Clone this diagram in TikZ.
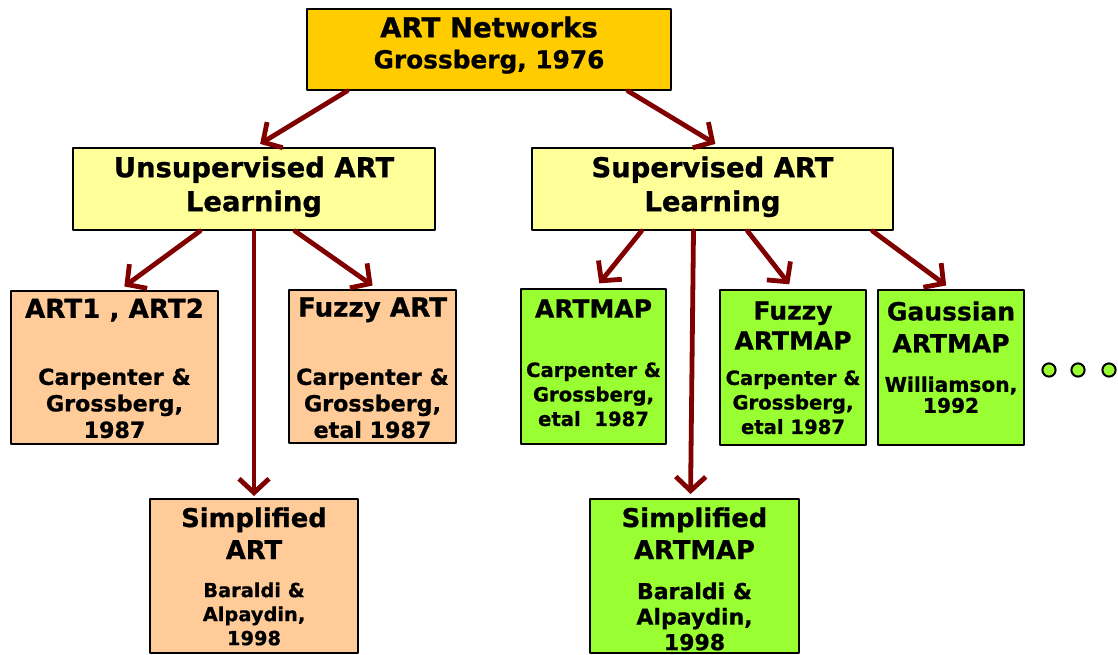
\documentclass[tikz,border=0pt]{standalone}
\usepackage{fontspec}
\setmainfont{DejaVu Sans}[BoldFeatures={FakeBold=0.8}]
\usetikzlibrary{arrows.meta}
\usetikzlibrary{calc}
\definecolor{artgold}{HTML}{FFCC00}
\definecolor{learnyellow}{HTML}{FFFF99}
\definecolor{unsupbox}{HTML}{FFCC99}
\definecolor{supbox}{HTML}{99FF33}
\definecolor{arrowred}{HTML}{800000}
\newcommand{\fs}[2]{\fontsize{#1}{#2}\selectfont\bfseries}

\begin{document}
\begin{tikzpicture}[line cap=round,line join=round,>={Straight Barb[length=7pt,width=15pt]},x=0.5pt,y=-0.5pt,
  box/.style={draw=black,line width=1pt,inner sep=0pt},
  txt/.style={inner sep=0pt,anchor=north,align=center},
  link/.style={->,draw=arrowred,line width=2.4pt,shorten >=3pt}]
\useasboundingbox (0,0) rectangle (1118,654);
% top level
\node[box,fill=artgold,minimum width=182pt,minimum height=40.5pt] (art) at (489,49.5) {};
\node[txt,font=\fs{13.8}{15.5}] (artname) at ($(art.north)+(0,8)$) {ART Networks\\{\fontsize{12.4}{15.5}\selectfont Grossberg, 1976}};
% learning modes
\node[box,fill=learnyellow,minimum width=181pt,minimum height=41pt] (unsup) at (254,189) {};
\node[txt,font=\fs{13.7}{17}] (unsupname) at ($(unsup.north)+(0,9)$) {Unsupervised ART\\Learning};
\node[box,fill=learnyellow,minimum width=180.5pt,minimum height=41pt] (sup) at (712.5,189) {};
\node[txt,font=\fs{13.7}{17}] (supname) at ($(sup.north)+(0,9)$) {Supervised ART\\Learning};
% unsupervised family
\node[box,fill=unsupbox,minimum width=103.5pt,minimum height=76.5pt] (art1) at (114.5,367.5) {};
\node[txt,font=\fs{13.1}{15}] (art1name) at ($(art1.north)+(0,8)$) {ART1 , ART2};
\node[txt,font=\fs{11.1}{13.25}] (art1ref) at ($(art1.north)+(0,78)$) {Carpenter \&\\Grossberg,\\1987};
\node[box,fill=unsupbox,minimum width=83.5pt,minimum height=76.5pt] (fart) at (372.5,366.5) {};
\node[txt,font=\fs{13.1}{15}] (fartname) at ($(fart.north)+(0,8)$) {Fuzzy ART};
\node[txt,font=\fs{11.1}{13.25}] (fartref) at ($(fart.north)+(0,79)$) {Carpenter \&\\Grossberg,\\etal 1987};
\node[box,fill=unsupbox,minimum width=104pt,minimum height=77pt] (sart) at (254,576) {};
\node[txt,font=\fs{12.9}{16}] (sartname) at ($(sart.north)+(0,9)$) {Simplified\\ART};
\node[txt,font=\fs{9.7}{12}] (sartref) at ($(sart.north)+(0,84)$) {Baraldi \&\\Alpaydin,\\1998};
% supervised family
\node[box,fill=supbox,minimum width=72.5pt,minimum height=77.5pt] (artmap) at (593.5,366.5) {};
\node[txt,font=\fs{12.5}{15}] (artmapname) at ($(artmap.north)+(0,11)$) {ARTMAP};
\node[txt,font=\fs{9.8}{12.25}] (artmapref) at ($(artmap.north)+(0,74)$) {Carpenter \&\\Grossberg,\\etal~\ 1987};
\node[box,fill=supbox,minimum width=73pt,minimum height=77.5pt] (fartmap) at (793,367.5) {};
\node[txt,font=\fs{12.5}{15}] (fartmapname) at ($(fartmap.north)+(0,12)$) {Fuzzy\\ARTMAP};
\node[txt,font=\fs{9.8}{12.25}] (fartmapref) at ($(fartmap.north)+(0,81)$) {Carpenter \&\\Grossberg,\\etal 1987};
\node[box,fill=supbox,minimum width=73pt,minimum height=77.5pt] (gartmap) at (951,367.5) {};
\node[txt,font=\fs{12.5}{16}] (gartmapname) at ($(gartmap.north)+(0,12)$) {Gaussian\\ARTMAP};
\node[txt,font=\fs{10.1}{10.5}] (gartmapref) at ($(gartmap.north)+(0,87)$) {Williamson,\\1992};
\node[box,fill=supbox,minimum width=104.5pt,minimum height=77pt] (sartmap) at (694.5,576) {};
\node[txt,font=\fs{12.9}{16}] (sartmapname) at ($(sartmap.north)+(0,9)$) {Simplified\\ARTMAP};
\node[txt,font=\fs{11}{12.75}] (sartmapref) at ($(sartmap.north)+(0,84)$) {Baraldi \&\\Alpaydin,\\1998};
% links
\draw[link] ($(art.south)+(-142,0)$) -- ($(unsup.north)+(1,0)$);
\draw[link] ($(art.south)+(139,0)$) -- ($(sup.north)+(8,0)$);
\draw[link] ($(unsup.south)+(-54,0)$) -- ($(art1.north)+(5,0)$);
\draw[link,shorten >=1pt] (unsup.south) -- (sart.north);
\draw[link] ($(unsup.south)+(41,0)$) -- ($(fart.north)+(5,0)$);
\draw[link] ($(sup.south)+(-71,0)$) -- ($(artmap.north)+(2,0)$);
\draw[link,shorten >=2pt] ($(sup.south)+(-19,0)$) -- ($(sartmap.north)+(-4,0)$);
\draw[link] ($(sup.south)+(35,0)$) -- (fartmap.north);
\draw[link] ($(sup.south)+(160,0)$) -- (gartmap.north);
% more
\foreach \x in {1049,1078,1109}
  \draw[fill=supbox,line width=1pt] (\x,370) circle [radius=3.3pt];
\end{tikzpicture}
\end{document}
